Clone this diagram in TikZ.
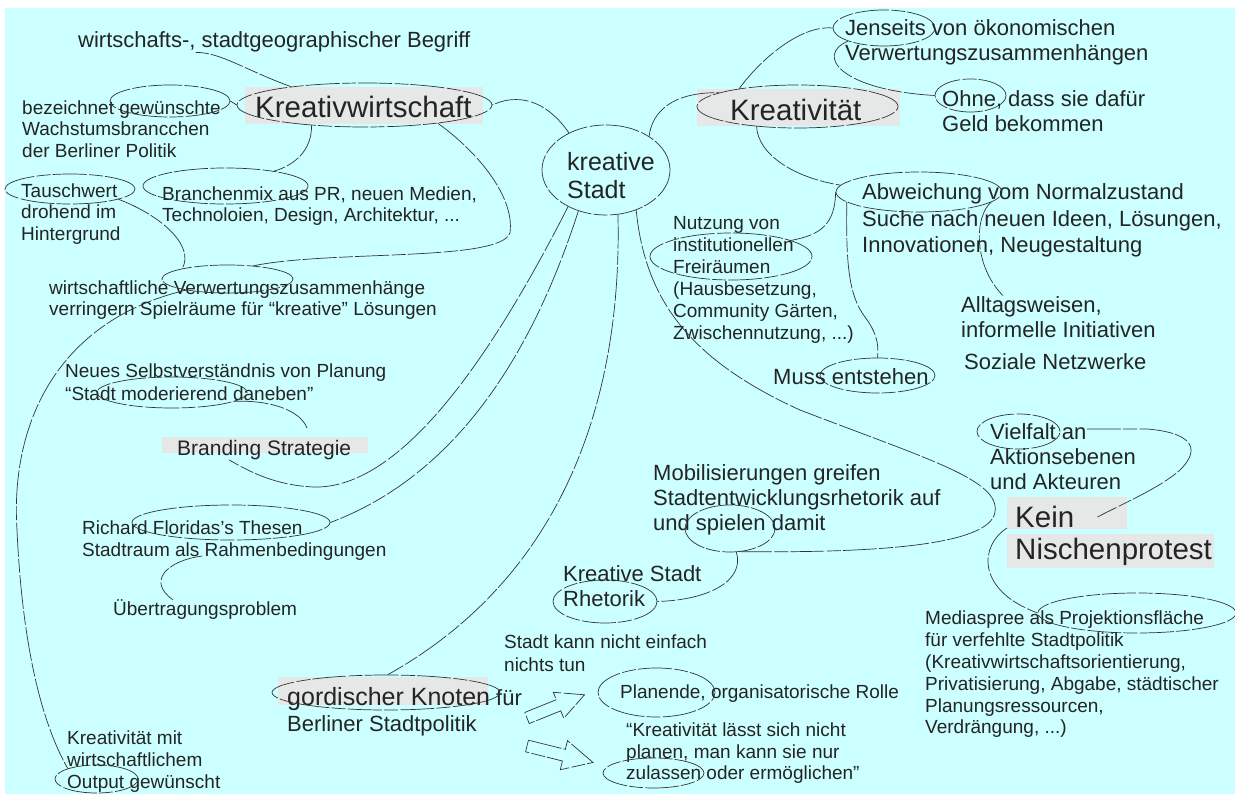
\documentclass[tikz,border=0pt]{standalone}
\usepackage{fontspec}
\setmainfont{Liberation Sans}
\usetikzlibrary{shapes.geometric,calc}
\definecolor{bgc}{HTML}{CCFFFF}
\definecolor{boxc}{HTML}{E6E8E8}
\definecolor{tc}{HTML}{242424}
\definecolor{lc}{HTML}{333333}
\begin{document}
\begin{tikzpicture}[x=1pt,y=-1pt,
  txt/.style={anchor=west, inner sep=0pt, align=left, text=tc, yshift=-2pt},
  t19/.style={txt, font=\fontsize{19}{21.5}\selectfont},
  t21/.style={txt, font=\fontsize{21}{24}\selectfont},
  t22/.style={txt, font=\fontsize{22}{25}\selectfont},
  t25/.style={txt, font=\fontsize{25}{28}\selectfont},
  t30/.style={txt, font=\fontsize{29.5}{33}\selectfont},
  sketch/.style={draw=lc, line width=0.7pt, dash pattern=on 34pt off 2pt on 14pt off 2.5pt},
  ell/.style={sketch, ellipse, inner sep=0pt},
  conn/.style={sketch},
  arrowshape/.style={sketch}
]
\useasboundingbox (0,0) rectangle (1235,794);
\fill[white] (0,0) rectangle (1235,794);
\fill[bgc] (5,8) rectangle (1235,794);

% grey highlight boxes
\fill[boxc] (245,87) rectangle (483,124);
\fill[boxc] (697,89) rectangle (900,126);
\fill[boxc] (162,437) rectangle (368,453);
\fill[boxc] (1007,497) rectangle (1127,529);
\fill[boxc] (1007,534) rectangle (1214,568);
\fill[boxc] (278,677) rectangle (488,705);

% texts
\node[t22] (begriff) at (78,40) {wirtschafts-, stadtgeographischer Begriff};
\node[t30] (kw) at (255,105) {Kreativwirtschaft};
\node[t19] (bez) at (22,127) {bezeichnet gewünschte\\Wachstumsbrancchen\\der Berliner Politik};
\node[t19] (tausch) at (21,212) {Tauschwert\\drohend im\\Hintergrund};
\node[t19] (branch) at (162,204) {Branchenmix aus PR, neuen Medien,\\Technoloien, Design, Architektur, ...};
\node[t19] (verw) at (49,298) {wirtschaftliche Verwertungszusammenhänge\\verringern Spielräume für “kreative” Lösungen};
\node[t25] (ks) at (567,174) {kreative\\Stadt};
\node[t30] (kt) at (730,108) {Kreativität};
\node[t22] (jen) at (845,40.5) {Jenseits von ökonomischen\\Verwertungszusammenhängen};
\node[t22] (ohne) at (942,109.5) {Ohne, dass sie dafür\\Geld bekommen};
\node[t22, font=\fontsize{22}{26.5}\selectfont] (abw) at (862,218.5) {Abweichung vom Normalzustand\\Suche nach neuen Ideen, Lösungen,\\Innovationen, Neugestaltung};
\node[t22] (alltag) at (961,315.5) {Alltagsweisen,\\informelle Initiativen};
\node[t22] (sozial) at (964,360) {Soziale Netzwerke};
\node[t19, font=\fontsize{19}{22}\selectfont] (nutz) at (673,278) {Nutzung von\\institutionellen\\Freiräumen\\(Hausbesetzung,\\Community Gärten,\\Zwischennutzung, ...)};
\node[t22] (muss) at (773,375) {Muss entstehen};
\node[t19, font=\fontsize{19}{22.5}\selectfont] (neues) at (65,380) {Neues Selbstverständnis von Planung\\“Stadt moderierend daneben”};
\node[t21] (brand) at (177,448) {Branding Strategie};
\node[t19, font=\fontsize{19}{22}\selectfont] (flor) at (82,539) {Richard Floridas’s Thesen\\Stadtraum als Rahmenbedingungen};
\node[t19] (ueber) at (113,608) {Übertragungsproblem};
\node[t22] (viel) at (990,455) {Vielfalt an\\Aktionsebenen\\und Akteuren};
\node[t30] (kein) at (1015,515) {Kein};
\node[t30] (nisch) at (1015,550) {Nischenprotest};
\node[t22] (mob) at (653,498) {Mobilisierungen greifen\\Stadtentwicklungsrhetorik auf\\und spielen damit};
\node[t22] (rhet) at (563,584.5) {Kreative Stadt\\Rhetorik};
\node[t19, font=\fontsize{19}{23}\selectfont] (nichts) at (504,651.5) {Stadt kann nicht einfach\\nichts tun};
\node[t22, font=\fontsize{22}{26}\selectfont] (gord) at (287,710) {{\fontsize{25}{26}\selectfont gordischer Knoten} für\\Berliner Stadtpolitik};
\node[t19] (plan) at (620,692) {Planende, organisatorische Rolle};
\node[t19] (zitat) at (626,751.5) {“Kreativität lässt sich nicht\\planen, man kann sie nur\\zulassen oder ermöglichen”};
\node[t19, font=\fontsize{19}{21.8}\selectfont] (media) at (925,672.5) {Mediaspree als Projektionsfläche\\für verfehlte Stadtpolitik\\(Kreativwirtschaftsorientierung,\\Privatisierung, Abgabe, städtischer\\Planungsressourcen,\\Verdrängung, ...)};
\node[t19, font=\fontsize{19}{22}\selectfont] (output) at (67,760) {Kreativität mit\\wirtschaftlichem\\Output gewünscht};

% ellipses
\node[ell, minimum width=255pt, minimum height=44pt] (e_kw) at (364.5,105) {};
\node[ell, minimum width=120pt, minimum height=32pt] (e_gew) at (170,101) {};
\node[ell, minimum width=130pt, minimum height=30pt] (e_tausch) at (70,189) {};
\node[ell, minimum width=165pt, minimum height=36pt] (e_branch) at (225.5,186) {};
\node[ell, minimum width=131pt, minimum height=28pt] (e_verw) at (227.5,279) {};
\node[ell, minimum width=128pt, minimum height=90pt] (e_ks) at (606,170) {};
\node[ell, minimum width=201pt, minimum height=43pt] (e_kt) at (797.5,106.5) {};
\node[ell, minimum width=102pt, minimum height=36pt] (e_jen) at (884,28) {};
\node[ell, minimum width=71pt, minimum height=33pt] (e_ohne) at (970.5,95.5) {};
\node[ell, minimum width=166pt, minimum height=40pt] (e_abw) at (919,192) {};
\node[ell, minimum width=162pt, minimum height=47pt] (e_nutz) at (731,256.5) {};
\node[ell, minimum width=115pt, minimum height=35pt] (e_muss) at (877.5,375.5) {};
\node[ell, minimum width=150pt, minimum height=31pt] (e_neues) at (172,392.5) {};
\node[ell, minimum width=198pt, minimum height=35pt] (e_flor) at (231,522.5) {};
\node[ell, minimum width=83pt, minimum height=35pt] (e_viel) at (1018.5,431.5) {};
\node[ell, minimum width=90pt, minimum height=47pt] (e_spiel) at (730,528.5) {};
\node[ell, minimum width=104pt, minimum height=43pt] (e_rhet) at (605,601.5) {};
\node[ell, minimum width=228pt, minimum height=35pt] (e_gord) at (386,692.5) {};
\node[ell, minimum width=117pt, minimum height=49pt] (e_plan) at (656.5,692.5) {};
\node[ell, minimum width=101pt, minimum height=30pt] (e_zul) at (653.5,773) {};
\node[ell, minimum width=198pt, minimum height=40pt] (e_media) at (1137,613) {};
\node[ell, minimum width=83pt, minimum height=28pt] (e_out) at (96.5,779) {};

% connectors
\draw[conn] (e_ks.135) .. controls (552,108) and (525,90) .. (e_kw.east);
\draw[conn] (e_ks.38) .. controls (652,112) and (672,92) .. (e_kt.170);
\draw[conn] (e_kw.166) .. controls (245,70) and (220,52) .. ($(begriff.south west)!0.3!(begriff.south east)$);
\draw[conn] (e_gew.east) -- (e_kw.west);
\draw[conn] (e_kw.-159) .. controls (312,150) and (295,165) .. (e_branch.17);
\draw[conn] (e_kw.-14) .. controls (475,150) and (515,195) .. (510,233) .. controls (500,262) and (330,250) .. (e_verw.27);
\draw[conn] (e_tausch.-12) .. controls (160,215) and (195,245) .. (e_verw.167);
\draw[conn] (e_verw.-165) .. controls (60,320) and (10,420) .. (17,530) .. controls (22,640) and (40,720) .. (e_out.160);
\draw[conn] (e_ks.-136) .. controls (490,360) and (400,490) .. (313,487) .. controls (275,485) and (250,472) .. ($(brand.south west)!0.3!(brand.south east)$);
\draw[conn] (e_ks.-124) .. controls (540,330) and (470,470) .. (e_flor.east);
\draw[conn] (e_ks.-75) .. controls (622,380) and (575,570) .. (e_gord.84);
\draw[conn] (e_ks.-53) .. controls (645,300) and (690,360) .. (800,410) .. controls (930,460) and (1000,480) .. (995,512) .. controls (990,545) and (880,553) .. (e_spiel.-65);
\draw[conn] (e_spiel.-75) .. controls (745,580) and (710,600) .. (e_rhet.east);
\draw[conn] (e_kt.163) .. controls (760,60) and (800,25) .. (e_jen.west);
\draw[conn] (e_jen.-160) .. controls (815,55) and (840,90) .. (e_ohne.west);
\draw[conn] (e_kt.-154) .. controls (758,155) and (795,178) .. (e_abw.175);
\draw[conn] (e_abw.west) .. controls (835,225) and (820,235) .. (e_nutz.15);
\draw[conn] (e_abw.-172) .. controls (846,260) and (848,295) .. (865,317) .. controls (880,337) and (878,350) .. (e_muss.north);
\draw[conn] (e_abw.-8) .. controls (975,215) and (972,265) .. ([xshift=43pt]alltag.north west);
\coordinate (vielend) at (1087,429);
\draw[conn] (vielend) -- (1147,429) .. controls (1185,432) and (1205,445) .. (1180,470) .. controls (1160,488) and (1120,505) .. ([xshift=23pt]kein.east);
\draw[conn] ([xshift=-8pt]kein.south west) .. controls (980,545) and (975,590) .. (e_media.west);
\draw[conn] (e_neues.-8) .. controls (270,400) and (300,410) .. ($(brand.north west)+(130,-12)$);
\draw[conn] ($(flor.south west)+(120,-5)$) .. controls (170,560) and (145,580) .. ([xshift=60pt]ueber.north west);

% block arrows
\draw[arrowshape, shift={(527,718)}, rotate=22] (0,-6) -- (34,-6) -- (34,-14) -- (62,0) -- (34,14) -- (34,6) -- (0,6) -- cycle;
\draw[arrowshape, shift={(527,746)}, rotate=-14] (0,-6) -- (38,-6) -- (38,-15) -- (68,0) -- (38,15) -- (38,6) -- (0,6) -- cycle;
\end{tikzpicture}
\end{document}
